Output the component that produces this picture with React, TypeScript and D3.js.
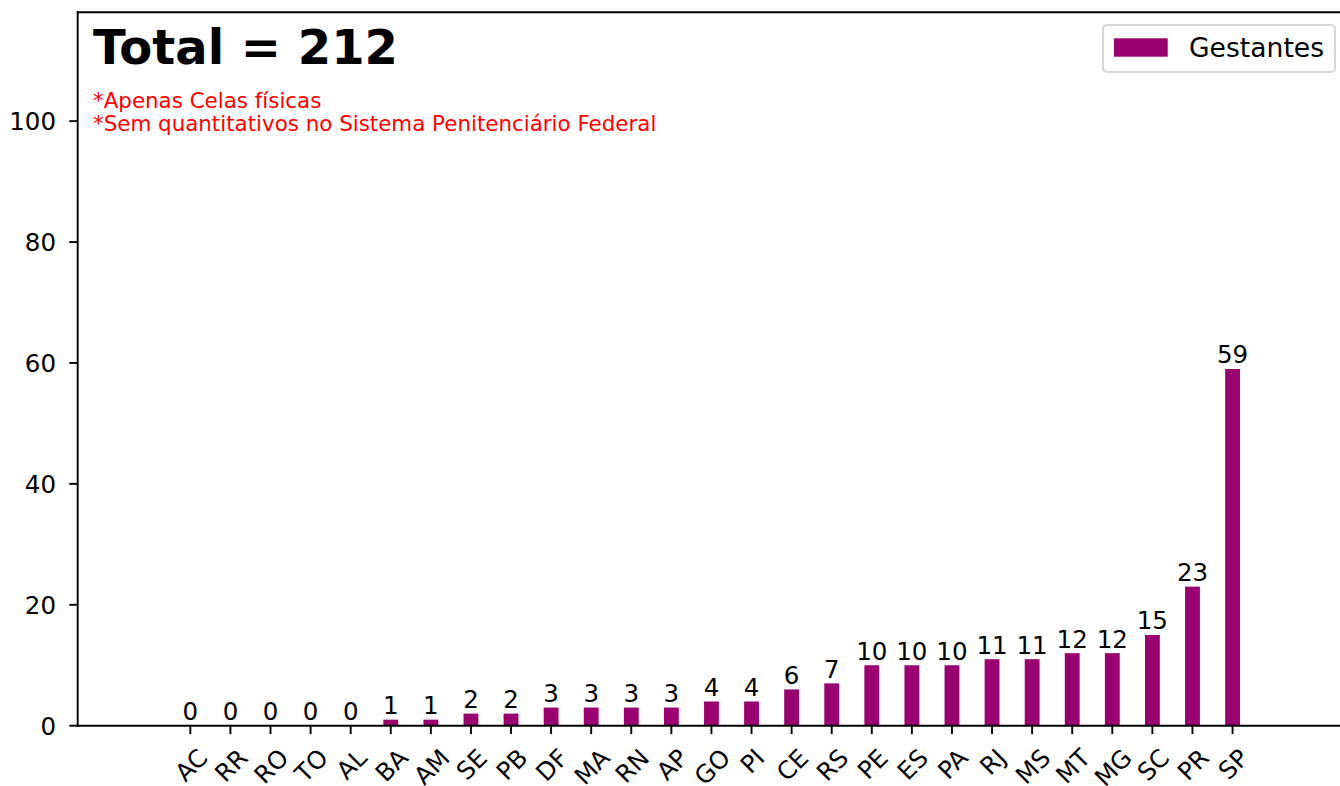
import React, { useEffect, useRef } from "react";
import * as d3 from "d3";

const states = ["AC","RR","RO","TO","AL","BA","AM","SE","PB","DF","MA","RN","AP","GO","PI","CE","RS","PE","ES","PA","RJ","MS","MT","MG","SC","PR","SP"];
const gestantes = [0,0,0,0,0,1,1,2,2,3,3,3,3,4,4,6,7,10,10,10,11,11,12,12,15,23,59];
const yTicks = [0, 20, 40, 60, 80, 100];
const titleText = "Total = 212";
const notes = ["*Apenas Celas físicas", "*Sem quantitativos no Sistema Penitenciário Federal"];
const legendLabel = "Gestantes";

const W = 1340, H = 786;
const BAR_COLOR = "#990070";
const FONT = "'DejaVu Sans', sans-serif";

export default function App() {
  const ref = useRef<SVGSVGElement>(null);
  useEffect(() => {
    document.body.style.margin = "0";
    const svg = d3.select(ref.current);
    svg.selectAll("*").remove();
    const left = 77.7, top = 12.3, bottom = 725.7, right = 1346;
    const x = d3.scaleLinear().domain([-2.81, 28.83]).range([left, right]);
    const y = d3.scaleLinear().domain([0, 118]).range([bottom, top]);
    const bw = (x(1) - x(0)) * 0.37;
    svg.append("rect").attr("x", 0).attr("y", 0).attr("width", W).attr("height", H).attr("fill", "#fff");

    // bars
    svg.append("g").selectAll("rect").data(gestantes).join("rect")
      .attr("x", (_, i) => x(i) - bw / 2)
      .attr("width", bw)
      .attr("y", d => y(d))
      .attr("height", d => y(0) - y(d))
      .attr("fill", BAR_COLOR);

    // value labels
    svg.append("g").selectAll("text").data(gestantes).join("text")
      .attr("x", (_, i) => x(i))
      .attr("y", d => y(d) - 5.6)
      .attr("text-anchor", "middle")
      .attr("font-family", FONT).attr("font-size", 24.5).attr("fill", "#000")
      .text(d => String(d));

    // spines
    const sw = 1.9;
    svg.append("line").attr("x1", left).attr("x2", left).attr("y1", top).attr("y2", bottom).attr("stroke", "#000").attr("stroke-width", sw).attr("stroke-linecap", "square");
    svg.append("line").attr("x1", left).attr("x2", right).attr("y1", top).attr("y2", top).attr("stroke", "#000").attr("stroke-width", sw).attr("stroke-linecap", "square");
    svg.append("line").attr("x1", left).attr("x2", right).attr("y1", bottom).attr("y2", bottom).attr("stroke", "#000").attr("stroke-width", sw).attr("stroke-linecap", "square");

    // y ticks
    const tl = 8.4, pad = 8.4;
    const yg = svg.append("g");
    yTicks.forEach(t => {
      yg.append("line").attr("x1", left - tl).attr("x2", left).attr("y1", y(t)).attr("y2", y(t)).attr("stroke", "#000").attr("stroke-width", sw);
      yg.append("text").attr("x", 56).attr("y", y(t)).attr("dy", "0.36em")
        .attr("text-anchor", "end").attr("font-family", FONT).attr("font-size", 24.5).attr("fill", "#000").text(String(t));
    });

    // x ticks
    const xg = svg.append("g");
    const fs = 24.5;
    const lineH = fs * 1.164;
    states.forEach((s, i) => {
      const cx = x(i);
      xg.append("line").attr("x1", cx).attr("x2", cx).attr("y1", bottom).attr("y2", bottom + tl).attr("stroke", "#000").attr("stroke-width", sw);
      const t = xg.append("text").attr("font-family", FONT).attr("font-size", fs).attr("fill", "#000")
        .attr("text-anchor", "middle").attr("dominant-baseline", "central").text(s);
      const w = (t.node() as SVGTextElement).getComputedTextLength();
      const half = (w + lineH) / (2 * Math.SQRT2);
      const cy = bottom + tl + pad + half;
      t.attr("transform", `translate(${cx},${cy}) rotate(-45)`).attr("dy", "0.05em");
    });

    // title & notes
    svg.append("text").attr("x", 93).attr("y", 64).attr("font-family", FONT).attr("font-weight", "bold").attr("font-size", 48).attr("fill", "#000").text(titleText);
    notes.forEach((n, i) => {
      svg.append("text").attr("x", 93).attr("y", 108 + i * 23).attr("font-family", FONT).attr("font-size", 21.4).attr("fill", "#ff0000").text(n);
    });

    // legend
    const lg = svg.append("g");
    lg.append("rect").attr("x", 1103).attr("y", 25).attr("width", 232).attr("height", 47).attr("rx", 4)
      .attr("fill", "#fff").attr("fill-opacity", 0.8).attr("stroke", "#d6d6d6").attr("stroke-width", 2);
    lg.append("rect").attr("x", 1114).attr("y", 38.3).attr("width", 53.7).attr("height", 18.4).attr("fill", BAR_COLOR);
    lg.append("text").attr("x", 1189).attr("y", 56.5).attr("font-family", FONT).attr("font-size", 26.6).attr("fill", "#000").text(legendLabel);
  }, []);
  return <svg ref={ref} width={W} height={H} style={{ display: "block" }} />;
}
